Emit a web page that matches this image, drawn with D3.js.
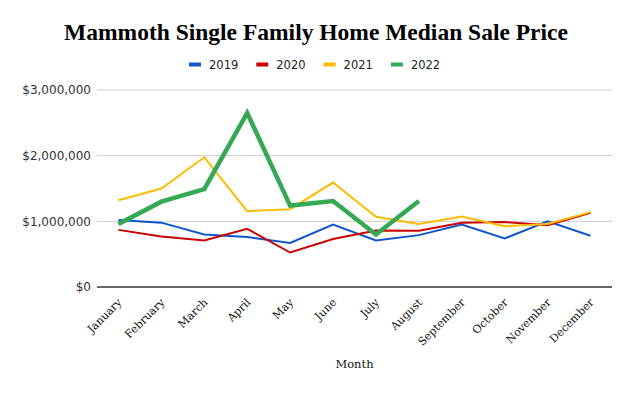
<!DOCTYPE html>
<html>
<head>
<meta charset="utf-8">
<script src="https://cdn.jsdelivr.net/npm/d3@7"></script>
<style>
  body { margin: 0; background: #fff; }
</style>
</head>
<body>
<svg id="chart" width="632" height="393"></svg>
<script>
// chart data
var months = ["January", "February", "March", "April", "May", "June",
  "July", "August", "September", "October", "November", "December"];
var years = ["2019", "2020", "2021", "2022"];
var sales2019 = [1020000, 980000, 800000, 760000, 670000, 950000, 710000, 790000, 950000, 740000, 1000000, 780000];
var sales2020 = [870000, 770000, 710000, 885000, 525000, 730000, 860000, 855000, 980000, 990000, 940000, 1130000];
var sales2021 = [1320000, 1500000, 1975000, 1155000, 1185000, 1590000, 1070000, 960000, 1075000, 925000, 960000, 1140000];
var sales2022 = [960000, 1300000, 1490000, 2650000, 1240000, 1310000, 800000, 1310000];
var yTicks = [0, 1000000, 2000000, 3000000];

var colors = ["#1155cc", "#cc0000", "#fbbc04", "#34a853"];
var widths = [2, 2, 2, 4.5];
var allSeries = [sales2019, sales2020, sales2021, sales2022];

var svg = d3.select('#chart');
var margin = {top: 90, right: 20, bottom: 106, left: 97};
var w = 632 - margin.left - margin.right;
var h = 393 - margin.top - margin.bottom;

var xScale = d3.scaleBand().domain(months).range([0, w]);
var yScale = d3.scaleLinear().domain([0, 3000000]).range([h, 0]);

// title
svg.append('text')
  .attr('x', 316).attr('y', 40)
  .attr('text-anchor', 'middle')
  .style('font-family', 'Liberation Serif, serif')
  .style('font-weight', 'bold')
  .style('font-size', '23.5px')
  .attr('fill', '#000')
  .text('Mammoth Single Family Home Median Sale Price');

// legend
var legend = svg.append('g');
years.forEach(function(y, i) {
  var lx = 189 + i * 67.3;
  legend.append('rect')
    .attr('x', lx).attr('y', 62.5)
    .attr('width', 12).attr('height', 4)
    .attr('fill', colors[i]);
  legend.append('text')
    .attr('x', lx + 20).attr('y', 69)
    .style('font-family', 'DejaVu Sans, sans-serif')
    .style('font-size', '11.5px')
    .attr('fill', '#222')
    .text(y);
});

var mainG = svg.append('g')
  .attr('transform', 'translate(' + margin.left + ',' + margin.top + ')');

// gridlines
mainG.append('g').selectAll('line')
  .data(yTicks.slice(1))
  .enter().append('line')
  .attr('x1', 0).attr('x2', w)
  .attr('y1', function(d) { return yScale(d); })
  .attr('y2', function(d) { return yScale(d); })
  .attr('stroke', '#cccccc').attr('stroke-width', 1);

// y axis
var yAxis = d3.axisLeft(yScale)
  .tickValues(yTicks)
  .tickSize(0).tickPadding(6)
  .tickFormat(function(d) { return '$' + d3.format(',')(d); });
var appendedYAxis = mainG.append('g').call(yAxis);
appendedYAxis.select('.domain').remove();
appendedYAxis.selectAll('text')
  .style('font-family', 'DejaVu Sans, sans-serif')
  .style('font-size', '12px')
  .attr('fill', '#333');

// baseline
mainG.append('line')
  .attr('x1', 0).attr('x2', w)
  .attr('y1', h).attr('y2', h)
  .attr('stroke', '#333').attr('stroke-width', 1.3);

// x axis, labels rotated -45
var xAxis = d3.axisBottom(xScale).tickSize(0).tickPadding(0);
var appendedXAxis = mainG.append('g')
  .attr('transform', 'translate(0,' + h + ')')
  .call(xAxis);
appendedXAxis.select('.domain').remove();
appendedXAxis.selectAll('text')
  .style('font-family', 'DejaVu Serif, serif')
  .style('font-size', '11px')
  .attr('fill', '#111')
  .attr('text-anchor', 'end')
  .attr('y', 0)
  .attr('dy', 0)
  .attr('transform', 'translate(4,16) rotate(-45)');

// axis title
svg.append('text')
  .attr('x', margin.left + w / 2).attr('y', 368)
  .attr('text-anchor', 'middle')
  .style('font-family', 'DejaVu Serif, serif')
  .style('font-size', '11.5px')
  .attr('fill', '#111')
  .text('Month');

// lines
var line = d3.line()
  .x(function(d, i) { return xScale(months[i]) + xScale.bandwidth() / 2; })
  .y(function(d) { return yScale(d); });

allSeries.forEach(function(s, i) {
  mainG.append('path')
    .datum(s)
    .attr('d', line)
    .style('fill', 'none')
    .style('stroke', colors[i])
    .style('stroke-width', widths[i])
    .style('stroke-linejoin', 'miter');
});
</script>
</body>
</html>
